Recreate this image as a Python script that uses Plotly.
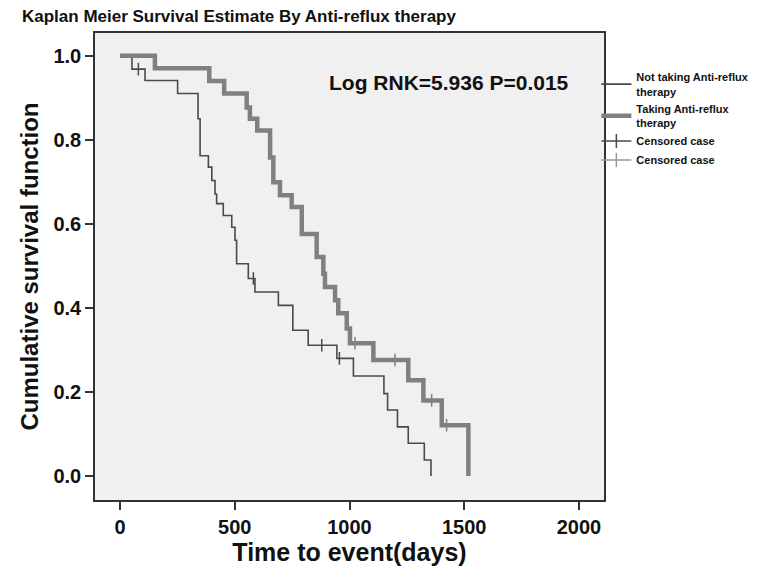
import plotly.graph_objects as go

# Not taking anti-reflux therapy (thin curve)
days_not = [0, 52, 109, 251, 340, 349, 385, 400, 414, 421, 450, 487, 501, 508, 559, 588, 690, 753, 820, 945, 1017, 1150, 1166, 1209, 1256, 1326, 1355]
surv_not = [1.0, 0.968, 0.941, 0.910, 0.850, 0.762, 0.735, 0.703, 0.671, 0.648, 0.620, 0.592, 0.561, 0.505, 0.470, 0.438, 0.406, 0.347, 0.311, 0.280, 0.238, 0.196, 0.157, 0.117, 0.078, 0.038, 0.0]
cens_days_not = [80, 581, 879, 956]
cens_surv_not = [0.968, 0.470, 0.311, 0.280]

# Taking anti-reflux therapy (thick curve)
days_tak = [0, 152, 389, 454, 552, 566, 598, 654, 668, 697, 748, 792, 857, 886, 893, 937, 951, 988, 1002, 1104, 1256, 1322, 1402, 1518]
surv_tak = [1.0, 0.970, 0.940, 0.910, 0.877, 0.850, 0.822, 0.758, 0.699, 0.668, 0.640, 0.576, 0.521, 0.481, 0.450, 0.418, 0.387, 0.351, 0.316, 0.276, 0.228, 0.180, 0.121, 0.0]
cens_days_tak = [1024, 1198, 1358, 1423]
cens_surv_tak = [0.316, 0.276, 0.180, 0.121]

x_ticks = [0, 500, 1000, 1500, 2000]
y_ticks = [0.0, 0.2, 0.4, 0.6, 0.8, 1.0]

title_text = "Kaplan Meier Survival Estimate By Anti-reflux therapy"
stat_text = "Log RNK=5.936 P=0.015"

THIN = "#4a4a4a"
THICK = "#808080"
FONT = "Liberation Sans, Arial, sans-serif"
TXT = "#111111"

def bf(size):
    return dict(size=size, color=TXT, family=FONT, weight="bold")

fig = go.Figure()
fig.add_trace(go.Scatter(x=days_not, y=surv_not, mode="lines", line=dict(color=THIN, width=1.6, shape="hv"),
                         name="Not taking Anti-reflux<br>therapy"))
fig.add_trace(go.Scatter(x=days_tak, y=surv_tak, mode="lines", line=dict(color=THICK, width=4.5, shape="hv"),
                         name="Taking Anti-reflux<br>therapy"))
fig.add_trace(go.Scatter(x=cens_days_not, y=cens_surv_not, mode="markers", showlegend=False,
                         marker=dict(symbol="line-ns", size=9, line=dict(color=THIN, width=1.5))))
fig.add_trace(go.Scatter(x=cens_days_tak, y=cens_surv_tak, mode="markers", showlegend=False,
                         marker=dict(symbol="line-ns", size=9, line=dict(color=THICK, width=1.5))))
# legend entries for censored cases
fig.add_trace(go.Scatter(x=[None], y=[None], mode="lines+markers", name="Censored case",
                         line=dict(color=THIN, width=1.5),
                         marker=dict(symbol="line-ns", size=10, line=dict(color=THIN, width=1.5))))
fig.add_trace(go.Scatter(x=[None], y=[None], mode="lines+markers", name="Censored case",
                         line=dict(color="#9a9a9a", width=1.5),
                         marker=dict(symbol="line-ns", size=10, line=dict(color="#9a9a9a", width=1.5))))

fig.update_layout(
    width=763, height=566,
    margin=dict(l=95, r=159, t=33, b=66, autoexpand=False),
    paper_bgcolor="white",
    plot_bgcolor="#f0f0f0",
    font=dict(family=FONT, color=TXT),
    title=dict(text=title_text, x=22 / 763, xref="container", xanchor="left",
               y=1 - 16 / 566, yref="container", yanchor="middle", font=bf(17)),
    legend=dict(x=0.985, xanchor="left", y=0.935, yanchor="top", font=bf(11),
                bgcolor="rgba(0,0,0,0)", tracegroupgap=0, itemwidth=30),
    showlegend=True,
)
fig.update_xaxes(range=[-109, 2109], tickvals=x_ticks, ticks="outside", ticklen=8, tickwidth=1.5,
                 tickcolor="#333", showline=True, linecolor="#333", linewidth=1.5, mirror=True,
                 showgrid=False, zeroline=False, tickfont=bf(20),
                 title=dict(text="Time to event(days)", font=bf(25), standoff=0))
fig.update_yaxes(range=[-0.057, 1.054], tickvals=y_ticks, tickformat=".1f", ticks="outside", ticklen=8,
                 tickwidth=1.5, tickcolor="#333", showline=True, linecolor="#333", linewidth=1.5, mirror=True,
                 showgrid=False, zeroline=False, tickfont=bf(20),
                 title=dict(text="Cumulative survival function", font=bf(24), standoff=8))

fig.add_annotation(x=0.695, y=0.894, xref="paper", yref="paper", text=stat_text,
                   showarrow=False, font=bf(21), xanchor="center", yanchor="middle")

fig.write_html("out.html")
